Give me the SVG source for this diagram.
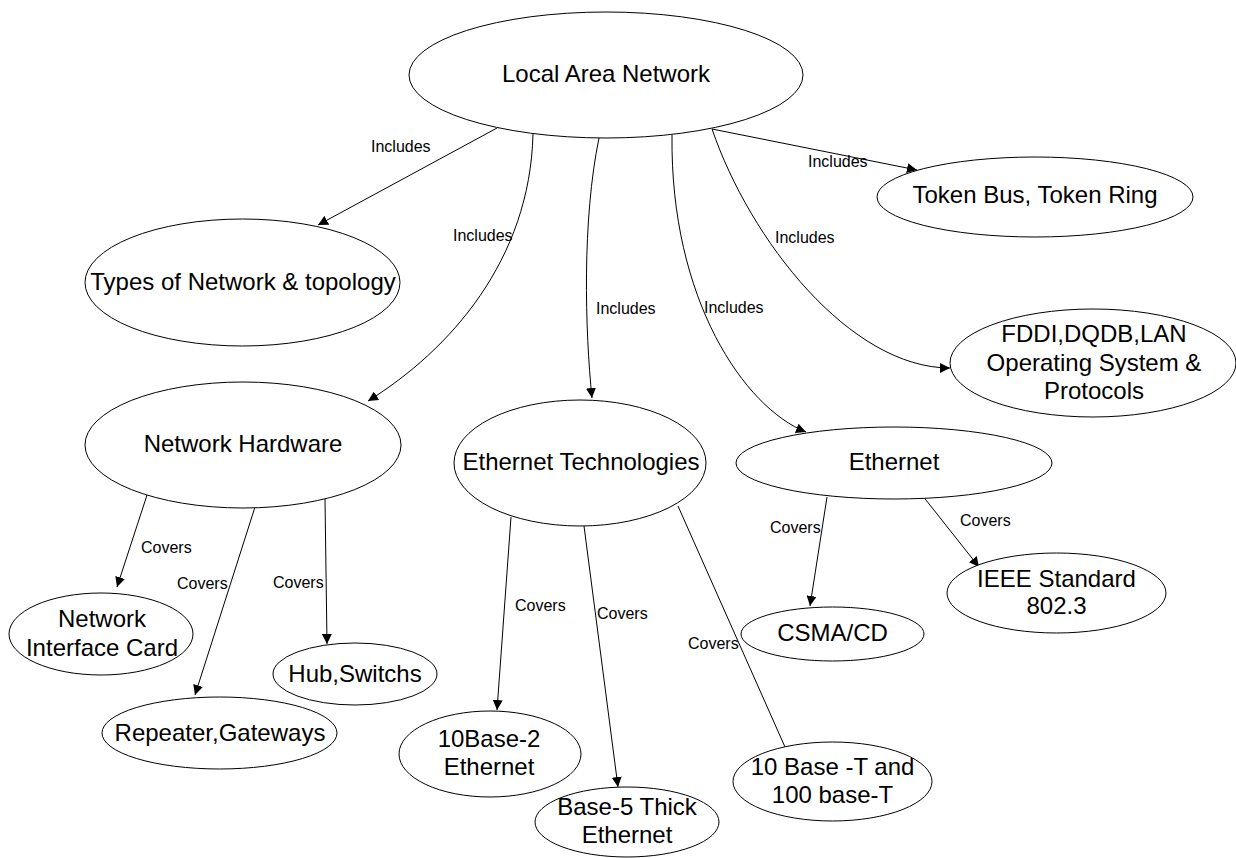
<svg xmlns="http://www.w3.org/2000/svg" width="1236" height="858" viewBox="0 0 1236 858">
<style>
.n ellipse{fill:#fff;stroke:#000;stroke-width:1}
.n text{font-family:"Liberation Sans",Arial,sans-serif;font-size:24px;fill:#000;text-anchor:middle}
.c path{fill:none;stroke:#000;stroke-width:1}
.lbl{font-family:"Liberation Sans",Arial,sans-serif;font-size:16px;fill:#000}
</style>
<defs>
<marker id="arr" viewBox="0 0 10 10" refX="10" refY="5" markerWidth="10" markerHeight="10" markerUnits="userSpaceOnUse" orient="auto"><path d="M0,0 L10,5 L0,10 z" fill="#000"/></marker>
</defs>
<rect width="1236" height="858" fill="#fff"/>
<g class="c" id="connectors">
<path d="M497,128 L318,225" marker-end="url(#arr)"/>
<path d="M533,134 C530,260 450,350 368,401" marker-end="url(#arr)"/>
<path d="M599,138 C582,220 585,330 592,398" marker-end="url(#arr)"/>
<path d="M672,135 C670,300 745,408 806,432" marker-end="url(#arr)"/>
<path d="M712,129 C750,240 850,368 950,368" marker-end="url(#arr)"/>
<path d="M712,129 L917,170" marker-end="url(#arr)"/>
<path d="M148,492 L117,587" marker-end="url(#arr)"/>
<path d="M255,507 L195,695" marker-end="url(#arr)"/>
<path d="M325,499 L327,644" marker-end="url(#arr)"/>
<path d="M511,517 L497,710" marker-end="url(#arr)"/>
<path d="M584,526 L618,787" marker-end="url(#arr)"/>
<path d="M678,506 L785,747"/>
<path d="M827,497 L810,606" marker-end="url(#arr)"/>
<path d="M922,495 L979,567" marker-end="url(#arr)"/>
<text class="lbl" x="371" y="152">Includes</text>
<text class="lbl" x="453" y="241">Includes</text>
<text class="lbl" x="596" y="314">Includes</text>
<text class="lbl" x="704" y="313">Includes</text>
<text class="lbl" x="775" y="243">Includes</text>
<text class="lbl" x="808" y="167">Includes</text>
<text class="lbl" x="141" y="553">Covers</text>
<text class="lbl" x="177" y="589">Covers</text>
<text class="lbl" x="273" y="588">Covers</text>
<text class="lbl" x="515" y="611">Covers</text>
<text class="lbl" x="597" y="619">Covers</text>
<text class="lbl" x="688" y="649">Covers</text>
<text class="lbl" x="770" y="533">Covers</text>
<text class="lbl" x="960" y="526">Covers</text>
</g>
<g class="n" id="lan"><ellipse cx="606" cy="75" rx="197" ry="63"/><text x="606" y="82">Local Area Network</text></g>
<g class="n" id="types"><ellipse cx="242.5" cy="282.5" rx="157.5" ry="63.5"/><text x="243" y="290">Types of Network &amp; topology</text></g>
<g class="n" id="token"><ellipse cx="1035" cy="197" rx="158" ry="40"/><text x="1035" y="203">Token Bus, Token Ring</text></g>
<g class="n" id="fddi"><ellipse cx="1093" cy="363" rx="143" ry="54"/><text x="1094" y="342">FDDI,DQDB,LAN</text><text x="1094" y="371">Operating System &amp;</text><text x="1094" y="399">Protocols</text></g>
<g class="n" id="nethw"><ellipse cx="243" cy="445" rx="158" ry="63"/><text x="243" y="452">Network Hardware</text></g>
<g class="n" id="ethtech"><ellipse cx="580" cy="463" rx="126" ry="63"/><text x="581" y="470">Ethernet Technologies</text></g>
<g class="n" id="ethernet"><ellipse cx="894" cy="463" rx="158" ry="36"/><text x="894" y="470">Ethernet</text></g>
<g class="n" id="nic"><ellipse cx="101" cy="634" rx="92" ry="41"/><text x="102" y="627">Network</text><text x="102" y="656">Interface Card</text></g>
<g class="n" id="repeater"><ellipse cx="219.5" cy="733" rx="117.5" ry="36"/><text x="220" y="741">Repeater,Gateways</text></g>
<g class="n" id="hub"><ellipse cx="355" cy="674" rx="82" ry="31"/><text x="355" y="682">Hub,Switchs</text></g>
<g class="n" id="b2"><ellipse cx="490" cy="754" rx="91" ry="43"/><text x="489" y="747">10Base-2</text><text x="489" y="775">Ethernet</text></g>
<g class="n" id="b5"><ellipse cx="627" cy="822" rx="92" ry="35"/><text x="627" y="815">Base-5 Thick</text><text x="627" y="843">Ethernet</text></g>
<g class="n" id="bt"><ellipse cx="832.5" cy="781.5" rx="99.5" ry="39.5"/><text x="832.5" y="775">10 Base -T and</text><text x="832.5" y="803">100 base-T</text></g>
<g class="n" id="csma"><ellipse cx="832.5" cy="634" rx="91.5" ry="27"/><text x="832.5" y="641">CSMA/CD</text></g>
<g class="n" id="ieee"><ellipse cx="1056.5" cy="593" rx="109.5" ry="40"/><text x="1056.5" y="587">IEEE Standard</text><text x="1056.5" y="614">802.3</text></g>
</svg>
